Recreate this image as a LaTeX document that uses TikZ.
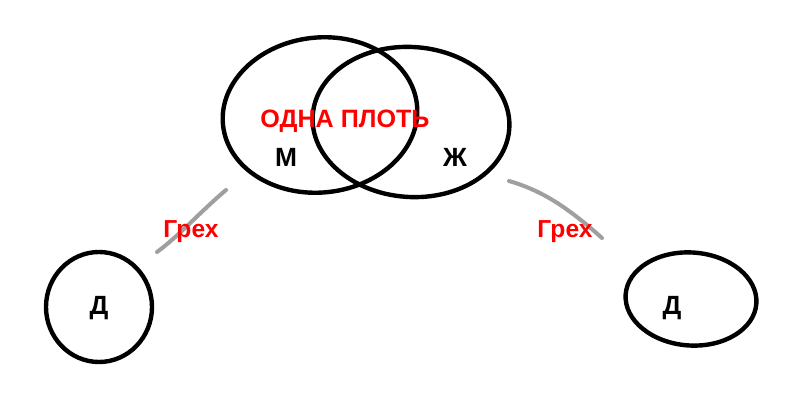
\documentclass[tikz,border=0pt]{standalone}
\usepackage{fontspec}
\setmainfont{Liberation Sans}
\usetikzlibrary{shapes.geometric}

\newcommand{\pxu}{0.02cm}

\tikzset{
  ring/.style={draw, ellipse, line width=2.5pt, inner sep=0pt},
  sin/.style={draw=gray!75, line width=2.3pt, line cap=round},
  redlabel/.style={text=red, font=\bfseries\fontsize{14}{16}\selectfont},
  blacklabel/.style={font=\bfseries\fontsize{15}{17}\selectfont}
}

\begin{document}
\begin{tikzpicture}[x=0.02cm, y=-0.02cm]
    \useasboundingbox (0, 0) rectangle (800, 411);
    \node[ring, minimum width=195*\pxu, minimum height=155*\pxu, rotate=6] (man) at (320, 115) {};
    \node[ring, minimum width=197*\pxu, minimum height=150*\pxu, rotate=-4] (wife) at (411, 122) {};
    \node[ring, minimum width=106*\pxu, minimum height=110*\pxu] (childL) at (99, 307) {};
    \node[ring, minimum width=131*\pxu, minimum height=93*\pxu, rotate=-4] (childR) at (691, 299) {};
    \node[redlabel, font=\bfseries\fontsize{14.3}{17}\selectfont] (flesh) at (345, 121) {ОДНА ПЛОТЬ};
    \node[blacklabel] (m) at (286, 157) {М};
    \node[blacklabel] (zh) at (455, 157) {Ж};
    \node[blacklabel] (dL) at (99, 308) {Д};
    \node[blacklabel] (dR) at (672, 308) {Д};
    \coordinate (sinLa) at (226, 190);
    \coordinate (sinLb) at (157, 252);
    \coordinate (sinRa) at (509, 181);
    \coordinate (sinRb) at (602, 238);
    \draw[sin] (sinLa) .. controls (200, 212) and (180, 235) .. (sinLb);
    \draw[sin] (sinRa) .. controls (540, 190) and (565, 205) .. (sinRb);
    \node[redlabel] (sinL) at (191, 232) {Грех};
    \node[redlabel] (sinR) at (565, 232) {Грех};
\end{tikzpicture}
\end{document}
